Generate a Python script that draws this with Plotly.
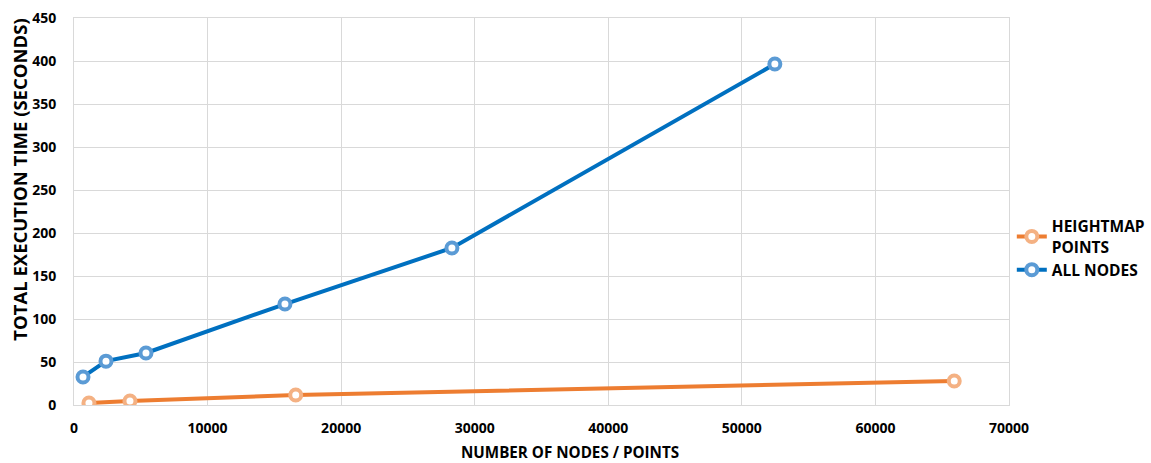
import plotly.graph_objects as go

# Heightmap grid sizes (points) and runtimes
heightmap_points = [1120, 4190, 16600, 65900]
heightmap_time = [2.3, 4.7, 11.6, 27.9]

# Node counts and runtimes for the full node set
all_nodes = [674, 2395, 5389, 15793, 28293, 52470]
all_nodes_time = [32.6, 51.0, 60.5, 117.4, 182.6, 396.5]

X_TITLE = "NUMBER OF NODES / POINTS"
Y_TITLE = "TOTAL EXECUTION TIME (SECONDS)"

FONT = "Open Sans"
GRID = "#D9D9D9"

fig = go.Figure()

fig.add_trace(go.Scatter(
    x=heightmap_points, y=heightmap_time, mode="lines+markers",
    name="<b>HEIGHTMAP<br>POINTS</b>",
    line=dict(color="#ED7D31", width=4),
    marker=dict(symbol="circle", size=11, color="white",
                line=dict(color="#F4B183", width=4)),
))
fig.add_trace(go.Scatter(
    x=all_nodes, y=all_nodes_time, mode="lines+markers",
    name="<b>ALL NODES</b>",
    line=dict(color="#0070C0", width=4),
    marker=dict(symbol="circle", size=11, color="white",
                line=dict(color="#5B9BD5", width=4)),
))

# Axis titles are centred on the whole chart rather than the plot area
fig.add_annotation(text=f"<b>{X_TITLE}</b>", xref="paper", yref="paper",
                   x=0.5305, y=-0.122, xanchor="center", yanchor="middle",
                   showarrow=False, font=dict(family=FONT, size=15.2, color="#000000"))
fig.add_annotation(text=f"<b>{Y_TITLE}</b>", xref="paper", yref="paper",
                   x=-0.0578, y=0.582, xanchor="center", yanchor="middle",
                   textangle=-90, showarrow=False,
                   font=dict(family=FONT, size=18.5, color="#000000"))

fig.update_layout(
    width=1151, height=463,
    margin=dict(l=74, r=142, t=18, b=58, autoexpand=False),
    paper_bgcolor="white", plot_bgcolor="white",
    font=dict(family=FONT, size=14, color="#000000"),
    legend=dict(x=1.003, y=0.405, xanchor="left", yanchor="middle",
                font=dict(family=FONT, size=15.5, color="#000000"),
                tracegroupgap=23),
    xaxis=dict(
        range=[0, 70000], dtick=10000, tickformat="d",
        showgrid=True, gridcolor=GRID, gridwidth=1,
        showline=True, linecolor=GRID, mirror=True, zeroline=False,
        tickfont=dict(family=FONT, size=14, color="#000000", weight="bold"),
        ticks="", ticklen=0, ticklabelstandoff=10,
    ),
    yaxis=dict(
        range=[0, 450], dtick=50,
        showgrid=True, gridcolor=GRID, gridwidth=1,
        showline=True, linecolor=GRID, mirror=True, zeroline=False,
        tickfont=dict(family=FONT, size=14, color="#000000", weight="bold"),
        ticks="", ticklen=0, ticklabelstandoff=14,
    ),
)

fig.write_html("out.html")
